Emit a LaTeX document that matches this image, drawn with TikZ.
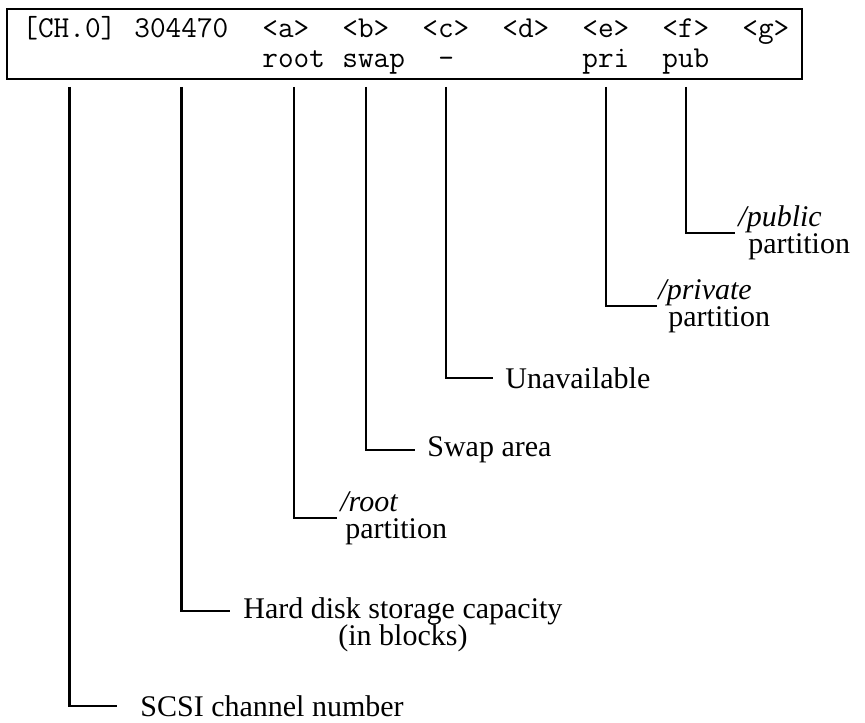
\documentclass[tikz,border=0pt]{standalone}
\usepackage{fontspec}
\setmainfont{Liberation Serif}
\usetikzlibrary{positioning}

\begin{document}
\begin{tikzpicture}[
    x=0.5pt, y=-0.5pt,
    % ---- styles -------------------------------------------------
    field/.style={font=\ttfamily\fontsize{15.2}{16}\selectfont,
        inner sep=0pt, anchor=base west},
    lbl/.style={font=\rmfamily\fontsize{15}{13.5}\selectfont,
        inner ysep=0pt, anchor=west, align=left},
    frame/.style={draw=black, line width=1.3pt},
    lead/.style={draw=black, line width=1.2pt},
]
\useasboundingbox (0,0) rectangle (865,722);

% =================== record line (box) ========================
\draw[frame] (7,9) rectangle (802,79);
\foreach \c/\n/\t in {0/ch/{[CH.0]}, 7/blk/304470, 15/fa/<a>, 20/fb/<b>,
                      25/fc/<c>, 30/fd/<d>, 35/fe/<e>, 40/ff/<f>, 45/fg/<g>}
    \node[field] (\n) at (22+16*\c,38) {\t};
\foreach \c/\n/\t in {15/root/root, 20/swap/swap, 26/none/-, 35/pri/pri, 40/pub/pub}
    \node[field] (\n) at (22+16*\c,68) {\t};
\coordinate (top) at (0,87);

% =================== labels ===================================
\node[lbl, inner xsep=11.5pt] (lchan) at (117,706) {SCSI channel number};
\node[lbl, inner xsep=6.5pt,
      label={[lbl, anchor=north, inner xsep=0pt, yshift=0.5pt]below:(in blocks)}]
      (lcap) at (230,611) {Hard disk storage capacity};
\node[lbl, inner xsep=1.5pt] (lroot) at (337,518) {\textit{/root}\\\hspace*{2.5pt}partition};
\node[lbl, inner xsep=6pt]   (lswap) at (415,450) {Swap area};
\node[lbl, inner xsep=6pt]   (lnone) at (493,378) {Unavailable};
\node[lbl, inner xsep=0.5pt] (lpriv) at (657,306) {\textit{/private}\\\hspace*{5pt}partition};
\node[lbl, inner xsep=1.5pt] (lpub)  at (735,233) {\textit{/public}\\\hspace*{5pt}partition};

% =================== leaders ==================================
\draw[lead] (ch   |- top) |- (lchan.west);
\draw[lead] (blk  |- top) |- (lcap.west);
\draw[lead] (root |- top) |- (lroot.west);
\draw[lead] (fb   |- top) |- (lswap.west);
\draw[lead] (none |- top) |- (lnone.west);
\draw[lead] (pri  |- top) |- (lpriv.west);
\draw[lead] (pub  |- top) |- (lpub.west);

\end{tikzpicture}
\end{document}
